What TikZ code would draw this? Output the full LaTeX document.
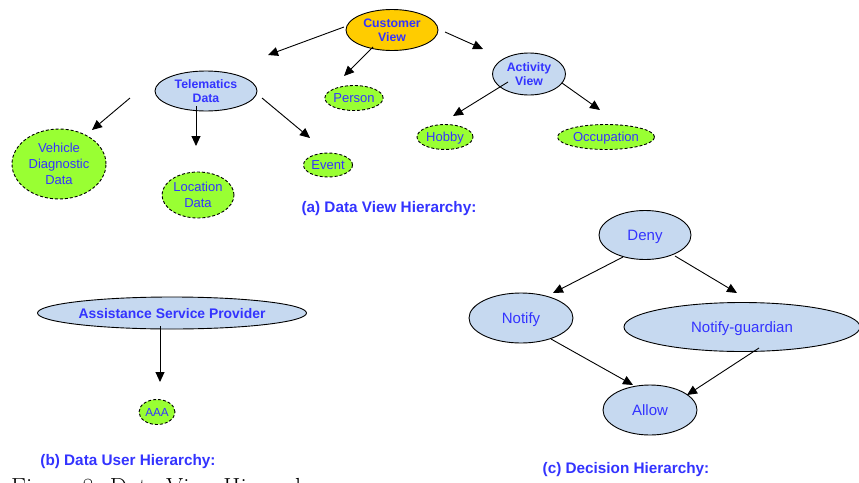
\documentclass[tikz,border=0pt]{standalone}
\usepackage{fontspec}
\newfontfamily\diafont{Liberation Sans}
\usetikzlibrary{shapes.geometric,arrows.meta}
\definecolor{txtblue}{RGB}{51,51,255}
\definecolor{gfill}{RGB}{153,255,51}
\definecolor{bfill}{RGB}{198,217,240}
\definecolor{ofill}{RGB}{255,204,0}
\begin{document}
\begin{tikzpicture}[x=1pt,y=-1pt,
 base/.style={ellipse, inner sep=0pt, text=txtblue, align=center, line width=0.9pt, text depth=0pt},
 gnode/.style={base, draw, fill=gfill, dash pattern=on 3pt off 2pt, font=\diafont\fontsize{13}{16}\selectfont},
 bnode/.style={base, draw, fill=bfill, font=\diafont\fontsize{15}{18}\selectfont},
 bbold/.style={base, draw, fill=bfill, font=\diafont\fontsize{12.3}{13.5}\selectfont\bfseries},
 onode/.style={base, draw, fill=ofill, font=\diafont\fontsize{12.3}{13.5}\selectfont\bfseries},
 ttl/.style={text=txtblue, font=\diafont\fontsize{15.3}{18}\selectfont\bfseries, inner sep=0pt, text depth=0pt},
 arr/.style={-{Triangle[length=10pt,width=9pt]}, line width=0.9pt},
 sz/.style 2 args={minimum width=#1pt, minimum height=#2pt}
]
\useasboundingbox (0,0) rectangle (859,482);
% (a) data view hierarchy
\node[onode, sz={92}{41}] (cv) at (392,30) {Customer\\View};
\node[bbold, sz={102}{40}] (td) at (206,91) {Telematics\\Data};
\node[gnode, sz={58}{25}] (person) at (354,98) {Person};
\node[bbold, sz={73}{42}] (av) at (529,74) {Activity\\View};
\node[gnode, sz={94}{70}] (vdd) at (59,164) {Vehicle\\Diagnostic\\Data};
\node[gnode, sz={72}{46}] (ld) at (198,195) {Location\\Data};
\node[gnode, sz={49}{24}] (event) at (328,165) {Event};
\node[gnode, sz={56}{25}] (hobby) at (445,137) {Hobby};
\node[gnode, sz={97}{25}] (occ) at (606,137) {Occupation};
\node[ttl] (ta) at (389,207) {(a) Data View Hierarchy:};
% (b) data user hierarchy
\node[bbold, sz={269}{32}, font=\diafont\fontsize{13.9}{16}\selectfont\bfseries] (asp) at (172,313) {Assistance Service Provider};
\node[gnode, sz={36}{25}, font=\diafont\fontsize{11.7}{14}\selectfont] (aaa) at (157,412) {AAA};
\node[ttl] (tb) at (128,460) {(b) Data User Hierarchy:};
% (c) decision hierarchy
\node[bnode, sz={92}{49}] (deny) at (645,235) {Deny};
\node[bnode, sz={104}{50}] (notify) at (521,318) {Notify};
\node[bnode, sz={236}{49}] (ng) at (742,327) {Notify-guardian};
\node[bnode, sz={94}{50}] (allow) at (650,410) {Allow};
\node[ttl] (tc) at (626,468) {(c) Decision Hierarchy:};
% caption (cut off at bottom edge, as in the reference)
\node[anchor=base west, inner sep=0pt, font=\fontsize{24.7}{30}\selectfont] (cap) at (11,495) {Figure 8: Data View Hierarchy};
% connector end points
\coordinate (a1s) at (344,27);  \coordinate (a1e) at (268,55);
\coordinate (a2s) at (373,47);  \coordinate (a2e) at (344,76);
\coordinate (a3s) at (445,32);  \coordinate (a3e) at (483,49);
\coordinate (a4s) at (130,98);  \coordinate (a4e) at (92,130);
\coordinate (a5s) at (196,106); \coordinate (a5e) at (196,146);
\coordinate (a6s) at (262,98);  \coordinate (a6e) at (310,138);
\coordinate (a7s) at (508,82);  \coordinate (a7e) at (453,116);
\coordinate (a8s) at (562,83);  \coordinate (a8e) at (600,110);
\coordinate (a9s) at (160,326); \coordinate (a9e) at (160,382);
\coordinate (b1s) at (623,257); \coordinate (b1e) at (553,293);
\coordinate (b2s) at (675,256); \coordinate (b2e) at (737,293);
\coordinate (b3s) at (551,339); \coordinate (b3e) at (633,385);
\coordinate (b4s) at (759,348); \coordinate (b4e) at (687,395);
\draw[arr] (a1s) -- (a1e);
\draw[arr] (a2s) -- (a2e);
\draw[arr] (a3s) -- (a3e);
\draw[arr] (a4s) -- (a4e);
\draw[arr] (a5s) -- (a5e);
\draw[arr] (a6s) -- (a6e);
\draw[arr] (a7s) -- (a7e);
\draw[arr] (a8s) -- (a8e);
\draw[arr] (a9s) -- (a9e);
\draw[arr] (b1s) -- (b1e);
\draw[arr] (b2s) -- (b2e);
\draw[arr] (b3s) -- (b3e);
\draw[arr] (b4s) -- (b4e);
\end{tikzpicture}
\end{document}
